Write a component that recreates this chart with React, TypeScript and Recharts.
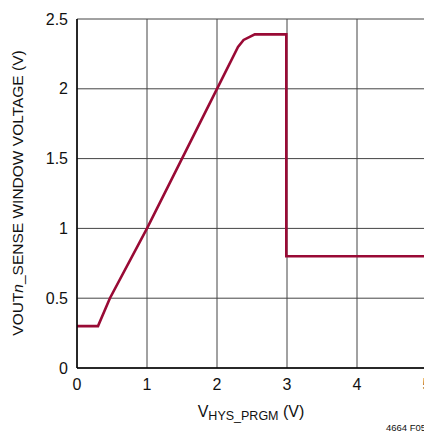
import React from 'react';
import { LineChart, Line, XAxis, YAxis, CartesianGrid } from 'recharts';

// VHYS_PRGM (V) vs window voltage (V)
const vHys = [0, 0.3, 0.47, 1, 2, 2.3, 2.38, 2.54, 2.99, 2.99, 5];
const vWindow = [0.3, 0.3, 0.5, 1, 2, 2.3, 2.35, 2.39, 2.39, 0.8, 0.8];

const xTicks = [0, 1, 2, 3, 4, 5];
const yTicks = [0, 0.5, 1, 1.5, 2, 2.5];

const data = vHys.map((x, i) => ({ x, v: vWindow[i] }));

const FONT = '"Liberation Sans Narrow", "Liberation Sans", Arial, sans-serif';

const XLabel = () => (
  <g>
    <text x={251} y={417} textAnchor="middle" fontFamily={FONT} fontSize={16} fill="#111">
      <tspan>V</tspan>
      <tspan fontSize={12.5} dy={3}>HYS_PRGM</tspan>
      <tspan dy={-3}> (V)</tspan>
    </text>
    <text x={386} y={431} fontFamily={FONT} fontSize={9.5} fill="#111">4664 F05</text>
  </g>
);

const App: React.FC = () => {
  return (
    <div style={{ position: 'fixed', left: 0, top: 0, width: 424, height: 433, overflow: 'hidden', background: '#fff' }}>
      <LineChart width={460} height={433} data={data} margin={{ top: 19, right: 33, bottom: 0, left: 0 }}>
        <CartesianGrid stroke="#444" strokeWidth={1} vertical horizontal />
        <XAxis
          dataKey="x"
          type="number"
          domain={[0, 5]}
          ticks={xTicks}
          height={65}
          tickLine={false}
          tickSize={0}
          tickMargin={11}
          axisLine={{ stroke: '#000', strokeWidth: 1.5 }}
          tick={{ fill: '#111', fontSize: 16, fontFamily: FONT }}
          interval={0}
        />
        <YAxis
          type="number"
          domain={[0, 2.5]}
          ticks={yTicks}
          width={77}
          tickLine={false}
          tickSize={0}
          tickMargin={9}
          axisLine={{ stroke: '#000', strokeWidth: 1.5 }}
          tick={{ fill: '#111', fontSize: 16, fontFamily: FONT }}
          interval={0}
        />
        <Line
          type="linear"
          dataKey="v"
          stroke="#990a35"
          strokeWidth={2.6}
          dot={false}
          isAnimationActive={false}
        />
        <XLabel />
        <text
          transform="translate(23,193) rotate(-90)"
          textAnchor="middle"
          fontFamily={FONT}
          fontSize={15.5}
          fill="#111"
        >
          <tspan>VOUT</tspan>
          <tspan fontStyle="italic">n</tspan>
          <tspan>_SENSE WINDOW VOLTAGE (V)</tspan>
        </text>
      </LineChart>
    </div>
  );
};

export default App;
